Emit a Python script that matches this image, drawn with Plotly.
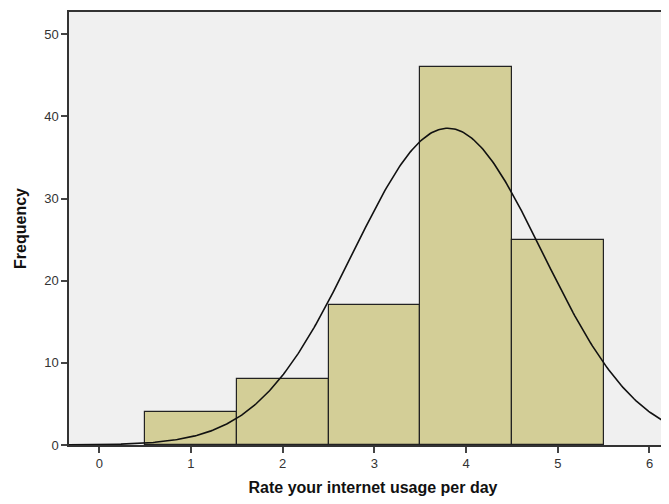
import numpy as np
import plotly.graph_objects as go

# Data
ratings = [1, 2, 3, 4, 5]
frequencies = [4, 8, 17, 46, 25]
x_tick_vals = [0, 1, 2, 3, 4, 5, 6]
y_tick_vals = [0, 10, 20, 30, 40, 50]

# Normal curve from the data's mean and standard deviation (SPSS style)
vals = np.repeat(ratings, frequencies)
n = len(vals)
mean = vals.mean()
sd = vals.std(ddof=1)
xc = np.linspace(-0.5, 6.5, 400)
yc = n * 1.0 * np.exp(-0.5 * ((xc - mean) / sd) ** 2) / (sd * np.sqrt(2 * np.pi))

fig = go.Figure()
fig.add_trace(go.Bar(
    x=ratings, y=frequencies, width=1,
    marker=dict(color="#d3ce97", line=dict(color="#222222", width=1.2)),
    showlegend=False, hoverinfo="x+y",
))
fig.add_trace(go.Scatter(
    x=xc, y=yc, mode="lines",
    line=dict(color="#111111", width=1.6),
    showlegend=False, hoverinfo="skip",
))

font_family = "Liberation Sans, Arial, sans-serif"
fig.update_layout(
    width=669, height=488,
    margin=dict(l=61, r=0, t=4, b=51, autoexpand=False),
    paper_bgcolor="white",
    plot_bgcolor="#f0f0f0",
    font=dict(family=font_family, size=13, color="#222222"),
    bargap=0,
    xaxis=dict(
        range=[-0.33, 6.30],
        tickvals=x_tick_vals,
        ticks="outside", ticklen=6, tickwidth=1.5, tickcolor="#444444",
        showgrid=False, zeroline=False, automargin=False,
        showline=True, linecolor="#333333", linewidth=1.5, mirror=True,
        tickfont=dict(size=13, color="#333333"),
        title=dict(text="<b>Rate your internet usage per day</b>",
                   font=dict(size=16, color="#111111"), standoff=14),
    ),
    yaxis=dict(
        range=[0, 52.7],
        tickvals=y_tick_vals,
        ticks="outside", ticklen=6, tickwidth=1.5, tickcolor="#444444",
        showgrid=False, zeroline=False, automargin=False,
        showline=True, linecolor="#333333", linewidth=1.5,
        tickfont=dict(size=13, color="#333333"),
        title=dict(text="<b>Frequency</b>",
                   font=dict(size=16, color="#111111"), standoff=14),
    ),
)

fig.write_html("out.html")
